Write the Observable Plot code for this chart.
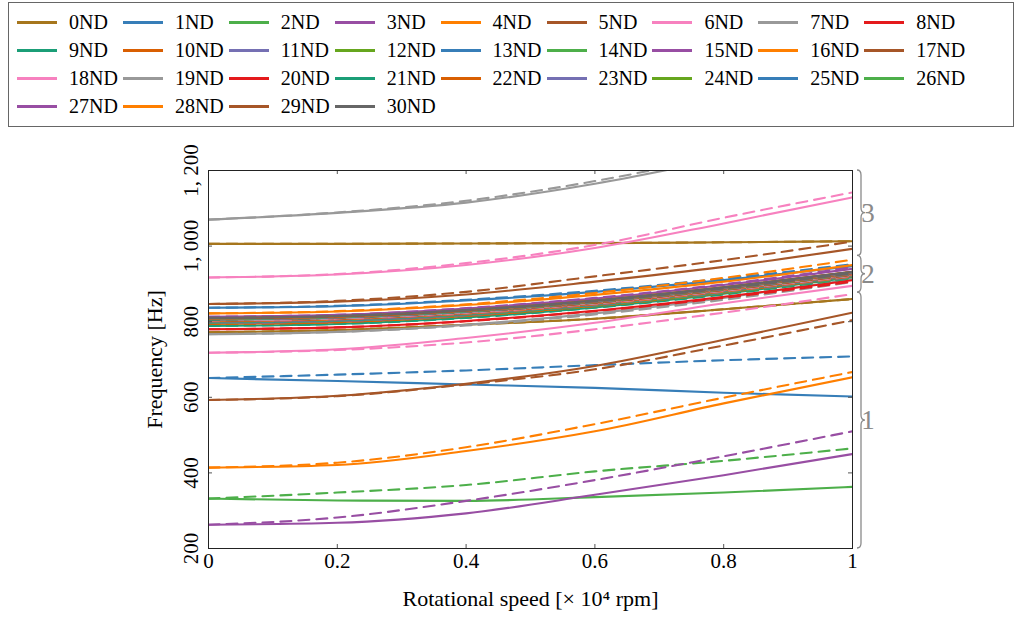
<!DOCTYPE html>
<html><head><meta charset="utf-8">
<script src="https://cdn.jsdelivr.net/npm/d3@7"></script>
<script src="https://cdn.jsdelivr.net/npm/@observablehq/plot@0.6"></script>
<style>
body{margin:0;background:#fff;font-family:'Liberation Serif','Times New Roman',serif;}
#wrap{position:relative;width:1014px;height:621px;overflow:hidden;}
#legend{position:absolute;left:8px;top:2px;width:1006px;height:125px;border:1px solid #666;box-sizing:border-box;}
.item{position:absolute;display:flex;align-items:center;height:24px;font-size:20px;color:#000;white-space:nowrap;font-family:'Liberation Serif','Times New Roman',serif;}
.item .sw{display:inline-block;width:40px;height:3px;margin-right:12px;}
#chart{position:absolute;left:0;top:130px;}
</style></head><body><div id="wrap"><div id="legend"></div><div id="chart"></div></div>
<script>
// ---------- data ----------
const xs = [0, 0.2, 0.4, 0.6, 0.8, 1];
const ndLabels = Array.from({length: 31}, (_, i) => `${i}ND`);
const ndColors = ["#a6761d",
  "#377eb8","#4daf4a","#984ea3","#ff7f00","#a65628","#f781bf","#999999","#e41a1c","#1b9e77","#d95f02","#7570b3","#66a61e",
  "#377eb8","#4daf4a","#984ea3","#ff7f00","#a65628","#f781bf","#999999","#e41a1c","#1b9e77","#d95f02","#7570b3","#66a61e",
  "#377eb8","#4daf4a","#984ea3","#ff7f00","#a65628","#666666"];

// mode family 1 (solid / dashed), [ND, frequencies at xs]
const fam1Solid = [
  [0, [772, 778, 792, 808, 833, 860]],
  [1, [651, 643, 634, 625, 612, 602]],
  [2, [332, 327, 326, 336, 348, 363]],
  [3, [263, 268, 293, 342, 394, 450]],
  [4, [414, 421, 458, 510, 584, 653]],
  [5, [593, 604, 636, 683, 752, 824]],
  [6, [718, 727, 757, 797, 849, 895]],
  [7, [767, 773, 792, 822, 863, 913]],
  [8, [780, 785, 802, 829, 866, 910]],
  [9, [789, 794, 811, 838, 874, 918]],
  [10, [794, 799, 815, 842, 877, 920]],
  [11, [797, 802, 818, 845, 880, 922]],
  [12, [798, 803, 819, 844, 879, 920]],
  [13, [799, 804, 820, 845, 880, 921]],
  [14, [800, 805, 821, 846, 881, 922]],
  [15, [801, 806, 822, 847, 882, 923]],
  [16, [802, 807, 823, 848, 883, 924]],
  [17, [803, 808, 824, 849, 884, 925]],
  [18, [804, 809, 825, 850, 885, 926]],
  [19, [805, 810, 826, 851, 886, 927]],
  [20, [806, 811, 827, 852, 887, 928]],
  [21, [806, 811, 827, 853, 888, 929]],
  [22, [807, 812, 828, 853, 888, 929]],
  [23, [807, 812, 828, 854, 889, 930]],
  [24, [808, 813, 829, 854, 889, 930]],
  [25, [808, 813, 829, 855, 890, 931]],
  [26, [808, 813, 829, 855, 890, 931]],
  [27, [809, 814, 830, 855, 890, 931]],
  [28, [809, 814, 830, 856, 891, 932]],
  [29, [809, 814, 830, 856, 891, 932]],
  [30, [810, 815, 831, 856, 891, 932]]
];
const fam1Dashed = [
  [0, [772, 778, 792, 808, 833, 860]],
  [1, [651, 660, 671, 685, 698, 708]],
  [2, [332, 348, 368, 404, 432, 465]],
  [3, [263, 282, 326, 381, 444, 510]],
  [4, [414, 427, 468, 529, 599, 667]],
  [5, [593, 603, 634, 674, 737, 804]],
  [6, [718, 725, 745, 780, 824, 873]],
  [7, [767, 773, 790, 819, 858, 905]],
  [8, [780, 785, 801, 828, 863, 906]],
  [9, [789, 794, 810, 837, 872, 915]],
  [10, [794, 799, 815, 841, 876, 918]],
  [11, [797, 802, 817, 844, 878, 919]],
  [12, [798, 803, 818, 842, 876, 916]],
  [13, [799, 804, 819, 843, 877, 917]],
  [14, [800, 805, 820, 844, 878, 918]],
  [15, [801, 806, 821, 845, 879, 919]],
  [16, [802, 807, 822, 846, 880, 920]],
  [17, [803, 808, 823, 847, 881, 921]],
  [18, [804, 809, 824, 848, 882, 922]],
  [19, [805, 810, 825, 849, 883, 923]],
  [20, [806, 811, 826, 850, 884, 924]],
  [21, [806, 811, 826, 851, 885, 925]],
  [22, [807, 812, 827, 851, 885, 925]],
  [23, [807, 812, 827, 852, 886, 926]],
  [24, [808, 813, 828, 852, 886, 926]],
  [25, [808, 813, 828, 853, 887, 927]],
  [26, [808, 813, 828, 853, 887, 927]],
  [27, [809, 814, 829, 853, 887, 927]],
  [28, [809, 814, 829, 854, 888, 928]],
  [29, [809, 814, 829, 854, 888, 928]],
  [30, [810, 815, 830, 854, 888, 928]]
];
// mode family 2
const fam2Solid = [
  [0, [1006, 1006, 1007, 1008, 1010, 1013]],
  [1, [837, 841, 856, 879, 910, 947]],
  [2, [808, 813, 827, 851, 884, 922]],
  [3, [813, 818, 835, 861, 897, 940]],
  [4, [822, 827, 844, 871, 906, 950]],
  [5, [847, 853, 872, 906, 945, 993]],
  [6, [917, 925, 950, 995, 1060, 1129]],
  [7, [1070, 1088, 1115, 1165, 1232, 1305]]
];
const fam2Dashed = [
  [0, [1006, 1006, 1007, 1008, 1010, 1013]],
  [1, [837, 842, 858, 882, 914, 952]],
  [2, [808, 813, 828, 853, 887, 927]],
  [3, [813, 818, 836, 863, 899, 944]],
  [4, [822, 828, 846, 876, 916, 964]],
  [5, [847, 855, 879, 920, 963, 1012]],
  [6, [917, 926, 955, 1003, 1075, 1142]],
  [7, [1070, 1089, 1120, 1172, 1240, 1312]]
];

const xTickValues = [0, 0.2, 0.4, 0.6, 0.8, 1];
const xTickLabels = ["0", "0.2", "0.4", "0.6", "0.8", "1"];
const yTickValues = [200, 400, 600, 800, 1000, 1200];
const yTickLabels = ["200", "400", "600", "800", "1, 000", "1, 200"];
const braceRanges = [[200, 877, "1"], [877, 974, "2"], [974, 1200, "3"]];
const xTitle = "Rotational speed [× 10⁴ rpm]";
const yTitle = "Frequency [Hz]";

// ---------- legend ----------
const legend = document.getElementById("legend");
ndLabels.forEach((lab, i) => {
  const col = i % 9, row = Math.floor(i / 9);
  const it = document.createElement("div");
  it.className = "item";
  it.style.left = (17 + 105.9 * col - 9) + "px";
  it.style.top = (22 + 28 * row - 3 - 12) + "px";
  const sw = document.createElement("span");
  sw.className = "sw"; sw.style.background = ndColors[i];
  it.appendChild(sw);
  it.appendChild(document.createTextNode(lab));
  legend.appendChild(it);
});

// ---------- chart ----------
const curves = [];
for (let nd = 0; nd <= 30; nd++) {
  for (const [list, dashed] of [[fam1Solid, false], [fam1Dashed, true], [fam2Solid, false], [fam2Dashed, true]]) {
    const e = list.find(d => d[0] === nd);
    if (e) curves.push({nd, dashed, vals: e[1]});
  }
}
const lineMarks = curves.map(c => Plot.line(
  c.vals.map((v, i) => ({x: xs[i], y: v, nd: ndLabels[c.nd]})),
  {x: "x", y: "y", stroke: "nd", strokeWidth: 2.1, curve: "monotone-x", clip: true,
   strokeDasharray: c.dashed ? "11,7" : undefined}
));
const inner = [0.2, 0.4, 0.6, 0.8];
const innerY = [400, 600, 800, 1000];
const font = "'Liberation Serif', 'Times New Roman', serif";

const plot = Plot.plot({
  width: 1014, height: 491,
  marginLeft: 208, marginRight: 162, marginTop: 40, marginBottom: 73,
  style: {fontFamily: font, background: "transparent", overflow: "visible"},
  x: {domain: [0, 1], axis: null},
  y: {domain: [200, 1200], axis: null},
  color: {domain: ndLabels, range: ndColors},
  marks: [
    ...lineMarks,
    Plot.tickX(inner, {x: d => d, insetTop: 374, stroke: "#555", strokeWidth: 1}),
    Plot.tickX(inner, {x: d => d, insetBottom: 374, stroke: "#555", strokeWidth: 1}),
    Plot.tickY(innerY, {y: d => d, insetRight: 640, stroke: "#555", strokeWidth: 1}),
    Plot.tickY(innerY, {y: d => d, insetLeft: 640, stroke: "#555", strokeWidth: 1}),
    Plot.frame({stroke: "#222", strokeWidth: 1}),
    Plot.text(xTickValues, {x: d => d, text: (d, i) => xTickLabels[i], frameAnchor: "bottom", dy: 19, fontSize: 21, fill: "#000", fontFamily: font}),
    Plot.text(yTickValues, {y: d => d, text: (d, i) => yTickLabels[i], frameAnchor: "left", textAnchor: "middle", dx: -17, rotate: -90, fontSize: 21, fill: "#000", fontFamily: font}),
    Plot.text([yTitle], {text: d => d, frameAnchor: "left", textAnchor: "middle", dx: -54, rotate: -90, fontSize: 22, fill: "#000", fontFamily: font}),
    Plot.text([xTitle], {text: d => d, frameAnchor: "bottom", textAnchor: "middle", dy: 57, fontSize: 22, fill: "#000", fontFamily: font})
  ]
});
document.getElementById("chart").appendChild(plot);

// ---------- braces (annotation, positioned through the y scale) ----------
const ys = plot.scale("y");
const svg = d3.select(plot);
const x0 = 857, xb = 861, xt = 865;
braceRanges.forEach(([lo, hi, lab]) => {
  const yTop = ys.apply(hi), yBot = ys.apply(lo), mid = (yTop + yBot) / 2;
  const r = 5;
  const p = `M${x0},${yTop} Q${xb},${yTop} ${xb},${yTop + r} L${xb},${mid - r} Q${xb},${mid} ${xt},${mid} Q${xb},${mid} ${xb},${mid + r} L${xb},${yBot - r} Q${xb},${yBot} ${x0},${yBot}`;
  svg.append("path").attr("d", p).attr("fill", "none").attr("stroke", "#8a8a8a").attr("stroke-width", 1.3);
  svg.append("text").attr("x", 868).attr("y", mid).attr("dy", "0.35em").attr("font-size", 27)
     .attr("font-family", font).attr("fill", "#8a8a8a").text(lab);
});
</script>
</body></html>
